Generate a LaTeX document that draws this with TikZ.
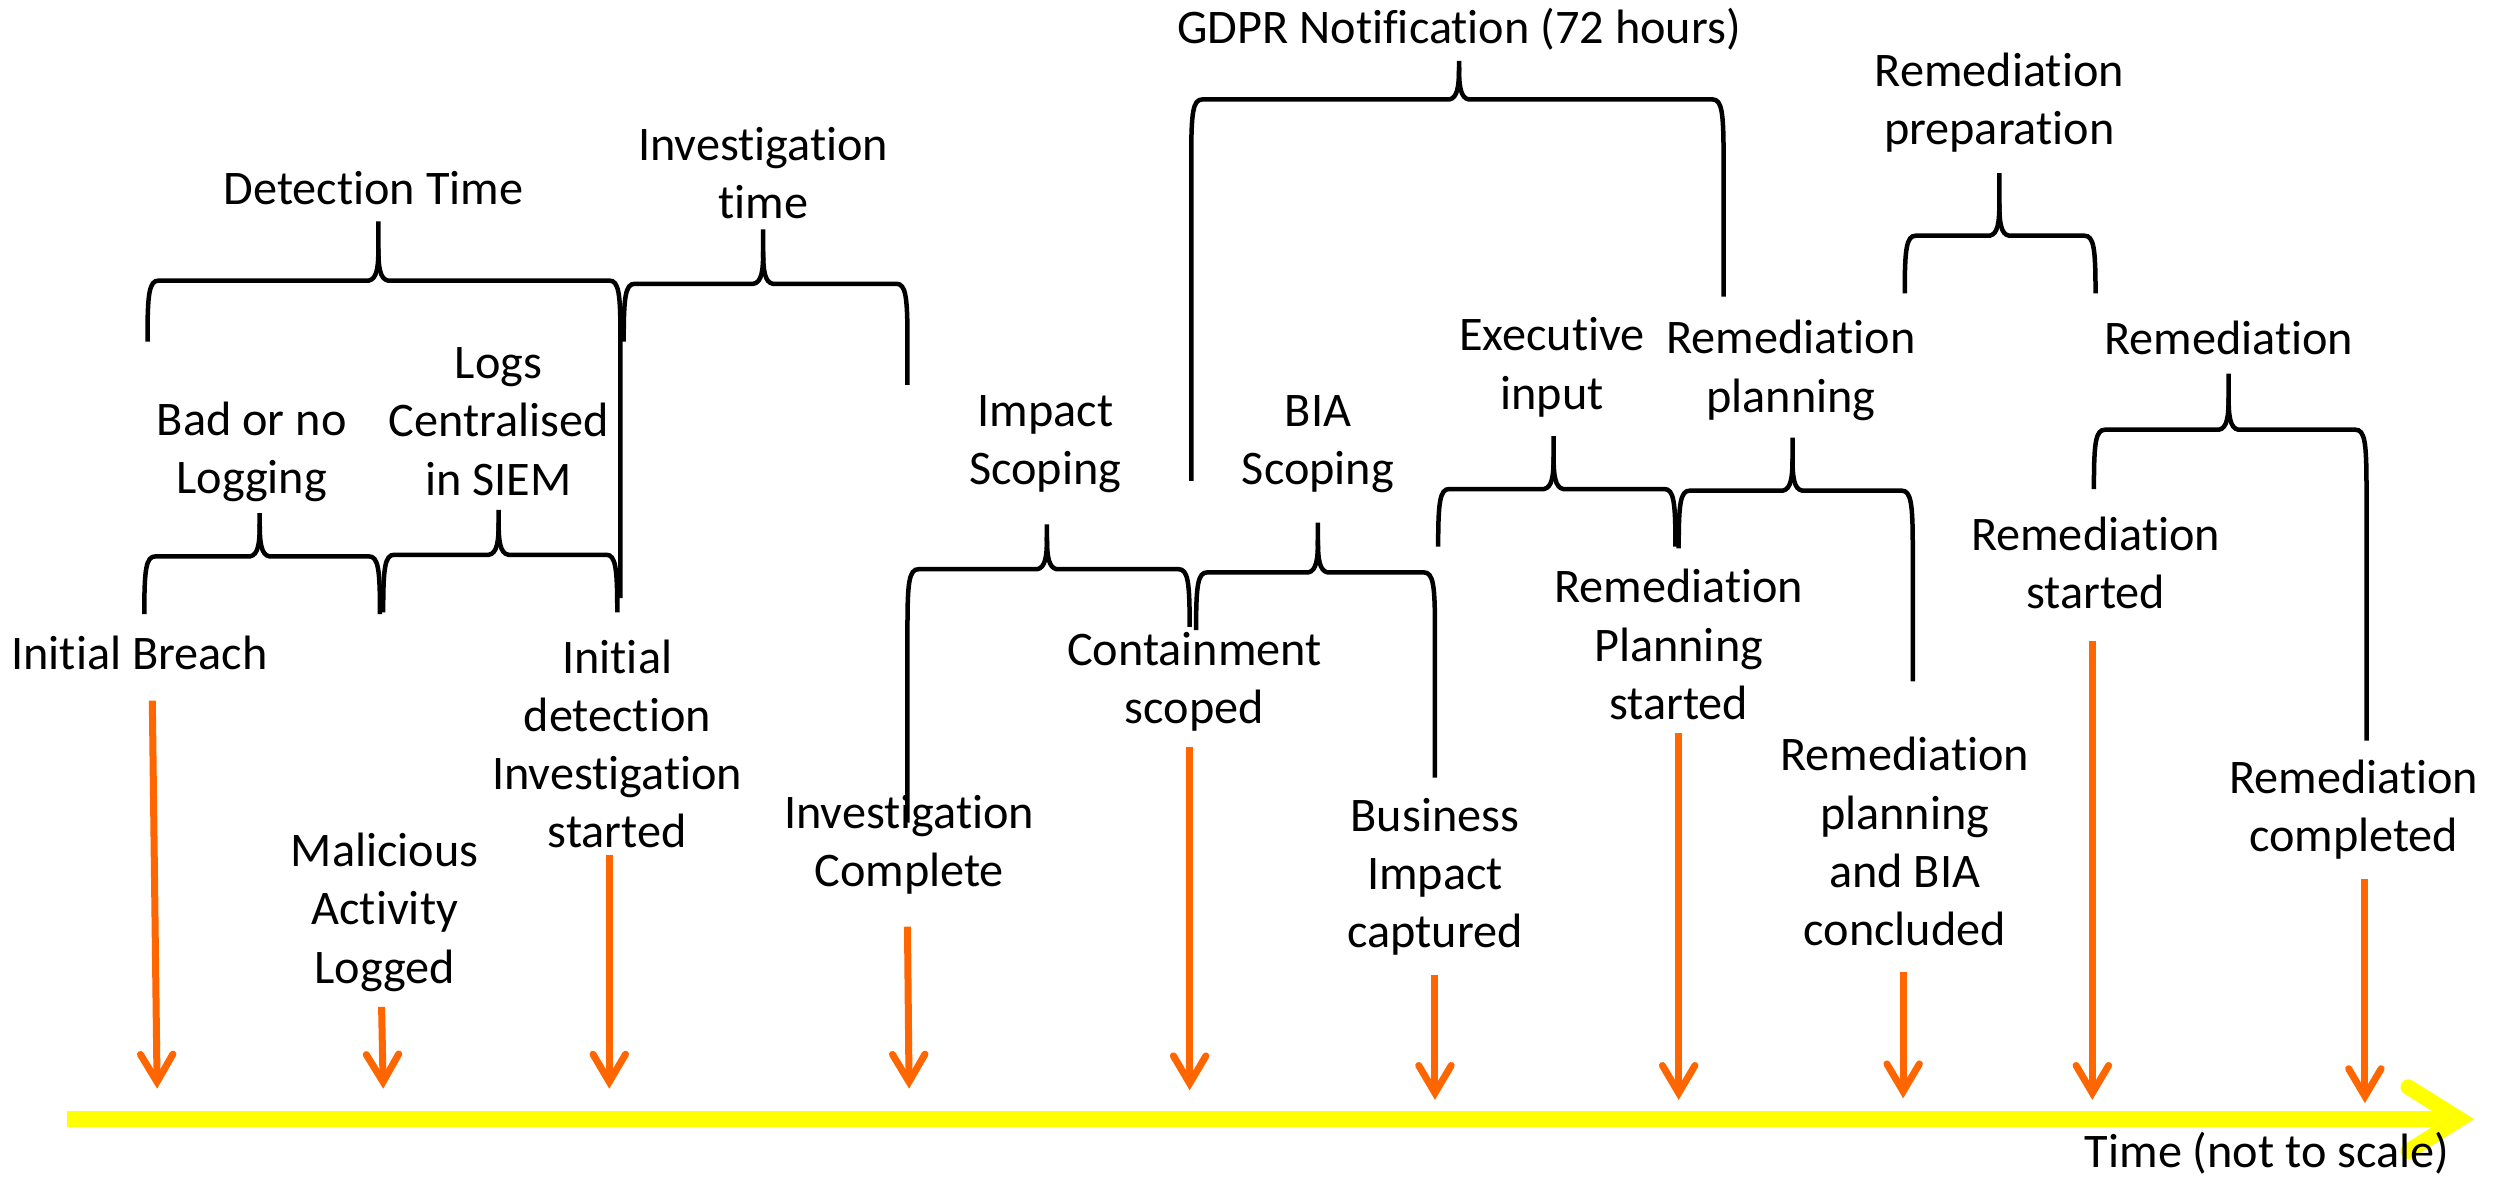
\documentclass[tikz,border=0pt]{standalone}
\usepackage{fontspec}
\setmainfont{Carlito}[Ligatures={NoCommon,NoContextual,NoRare},RawFeature={-liga;-clig;-dlig;-calt}]
\usetikzlibrary{arrows.meta,calc}

\definecolor{evorange}{RGB}{255,102,0}
\definecolor{axisyellow}{RGB}{255,255,0}

% Curly brace with independent leg lengths:
% #1 left x, #2 left leg bottom, #3 right x, #4 right leg bottom,
% #5 tip x, #6 brace top line, #7 tip top
\newcommand\tlbrace[7]{%
  \draw[bracestroke]
    (#1,#2) -- (#1,#6+36) .. controls (#1,#6+8) and (#1+1,#6) .. (#1+7,#6)
    -- (#5-6,#6) .. controls (#5-1,#6-1) and (#5,#6-8) .. (#5,#6-20) -- (#5,#7);
  \draw[bracestroke]
    (#5,#6-20) .. controls (#5,#6-8) and (#5+1,#6-1) .. (#5+6,#6)
    -- (#3-7,#6) .. controls (#3-1,#6) and (#3,#6+8) .. (#3,#6+36) -- (#3,#4);
}

\tikzset{
  lbl/.style={font=\fontsize{19.3}{23.3}\selectfont, align=center, inner sep=0pt},
  bracestroke/.style={line width=1.8pt, black, line cap=butt},
  event/.style={line width=2.8pt, evorange,
    -{Straight Barb[length=11pt,width=13pt,line cap=round,line join=miter]}},
  timeaxis/.style={line width=6.2pt, axisyellow},
  timehead/.style={line width=6.2pt, axisyellow, line cap=round, line join=miter},
}

\begin{document}
\begin{tikzpicture}[x=0.6413pt, y=-0.6413pt]
\useasboundingbox (0,0) rectangle (1568,737);

% time axis
\coordinate (t0) at (42,698);
\coordinate (t1) at (1534,698);
\draw[timeaxis] (t0) -- (t1);
\draw[timehead] ($(t1)+(-32,-20)$) -- (t1) -- ($(t1)+(-32,20)$);
\node[lbl] (timelbl) at (1414,719) {Time (not to scale)};

% event labels
\node[lbl] (breach)    at (87,407)   {Initial Breach};
\node[lbl] (logged)    at (240,569)  {Malicious\\Activity\\Logged};
\node[lbl] (detect)    at (385,464)  {Initial\\detection\\Investigation\\started};
\node[lbl] (invdone)   at (567,527)  {Investigation\\Complete};
\node[lbl] (contain)   at (745,425)  {Containment\\scoped};
\node[lbl] (bizimpact) at (895,547)  {Business\\Impact\\captured};
\node[lbl] (planstart) at (1047,402) {Remediation\\Planning\\started};
\node[lbl] (planend)   at (1188,525) {Remediation\\planning\\and BIA\\concluded};
\node[lbl] (remstart)  at (1307,351) {Remediation\\started};
\node[lbl] (remdone)   at (1468,505) {Remediation\\completed};

% event arrows onto the time axis
\coordinate (a1s) at (95,437);    \coordinate (a1e) at (98,679);
\coordinate (a2s) at (238,628);   \coordinate (a2e) at (239,679);
\coordinate (a3s) at (380,533);   \coordinate (a3e) at (380,679);
\coordinate (a4s) at (566,578);   \coordinate (a4e) at (567,679);
\coordinate (a5s) at (742,466);   \coordinate (a5e) at (742,680);
\coordinate (a6s) at (895,608);   \coordinate (a6e) at (895,686);
\coordinate (a7s) at (1047,457);  \coordinate (a7e) at (1047,686);
\coordinate (a8s) at (1187,606);  \coordinate (a8e) at (1187,685);
\coordinate (a9s) at (1305,400);  \coordinate (a9e) at (1305,686);
\coordinate (a10s) at (1475,548); \coordinate (a10e) at (1475,688);
\foreach \i in {1,...,10} \draw[event] (a\i s) -- (a\i e);

% phase labels
\node[lbl] (detphase)  at (233,117)  {Detection Time};
\node[lbl] (invphase)  at (476,108)  {Investigation\\time};
\node[lbl] (badlog)    at (157,282)  {Bad or no\\Logging};
\node[lbl] (siem)      at (311,263)  {Logs\\Centralised\\in SIEM};
\node[lbl] (impscope)  at (652,277)  {Impact\\Scoping};
\node[lbl] (biascope)  at (822,277)  {BIA\\Scoping};
\node[lbl] (gdpr)      at (910,18)   {GDPR Notification (72 hours)};
\node[lbl] (execin)    at (968,229)  {Executive\\input};
\node[lbl] (remplan)   at (1117,231) {Remediation\\planning};
\node[lbl] (remprep)   at (1247,64)  {Remediation\\preparation};
\node[lbl] (remphase)  at (1390,211) {Remediation};

% braces spanning the phases
\tlbrace{92}{213}{387}{373}{236}{175}{138}
\tlbrace{389}{212}{566}{240}{476}{177}{143}
\tlbrace{90}{378}{237}{378}{162}{347}{320}
\tlbrace{239}{378}{385}{372}{311}{346}{318}
\tlbrace{566}{513}{742}{385}{653}{355}{327}
\tlbrace{746}{385}{895}{485}{822}{357}{326}
\tlbrace{743}{300}{1075}{185}{910}{62}{38}
\tlbrace{897}{335}{1045}{337}{969}{305}{272}
\tlbrace{1047}{337}{1193}{425}{1118}{306}{273}
\tlbrace{1188}{182}{1307}{182}{1247}{147}{108}
\tlbrace{1306}{305}{1476}{462}{1390}{268}{233}
\end{tikzpicture}
\end{document}
